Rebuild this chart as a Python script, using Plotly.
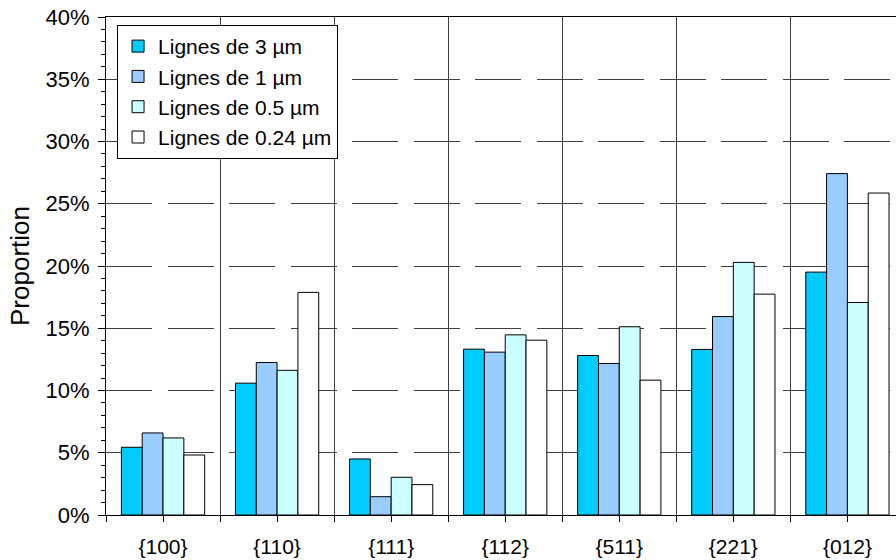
import plotly.graph_objects as go

# Crystallographic orientation families
categories = ["{100}", "{110}", "{111}", "{112}", "{511}", "{221}", "{012}"]

# Proportion (%) of each family, per line width
series_names = ["Lignes de 3 µm", "Lignes de 1 µm", "Lignes de 0.5 µm", "Lignes de 0.24 µm"]
lines_3um = [5.44, 10.59, 4.50, 13.32, 12.81, 13.30, 19.51]
lines_1um = [6.59, 12.25, 1.47, 13.08, 12.17, 15.94, 27.42]
lines_05um = [6.19, 11.62, 3.03, 14.47, 15.12, 20.29, 17.07]
lines_024um = [4.82, 17.88, 2.44, 14.04, 10.83, 17.74, 25.86]

y_ticks = [0, 5, 10, 15, 20, 25, 30, 35, 40]

colors = ["#00CCFF", "#99CCFF", "#CCFFFF", "#FFFFFF"]
FONT = "Liberation Sans, Arial, sans-serif"

positions = list(range(len(categories)))
boundaries = [p - 0.5 for p in positions] + [positions[-1] + 0.5]

fig = go.Figure()
for name, vals, col in zip(series_names,
                           [lines_3um, lines_1um, lines_05um, lines_024um],
                           colors):
    fig.add_trace(go.Bar(
        x=positions, y=vals, name=name,
        marker=dict(color=col, line=dict(color="#000000", width=1)),
    ))

fig.update_layout(
    width=896, height=560,
    margin=dict(l=106, r=0, t=17, b=45),
    paper_bgcolor="white", plot_bgcolor="white",
    barmode="group", bargap=0.27, bargroupgap=0,
    font=dict(family=FONT, size=21, color="#000000"),
    legend=dict(
        x=0.014, y=0.984, xanchor="left", yanchor="top",
        bgcolor="white", bordercolor="#000000", borderwidth=1,
        font=dict(family=FONT, size=21, color="#000000"),
        tracegroupgap=0,
    ),
    showlegend=True,
)

fig.update_xaxes(
    range=[-0.5, 6.426],
    tickmode="array", tickvals=positions, ticktext=categories,
    ticks="outside", ticklen=6, tickcolor="#000000", tickwidth=1,
    ticklabelstandoff=7,
    showgrid=False, zeroline=False,
    showline=True, linecolor="#000000", linewidth=1, mirror=True,
    tickfont=dict(family=FONT, size=21),
    minor=dict(
        tickmode="array", tickvals=boundaries,
        ticks="outside", ticklen=6, tickcolor="#000000",
        showgrid=True, gridcolor="#404040", gridwidth=1,
    ),
)

fig.update_yaxes(
    range=[0, 40],
    tickmode="array", tickvals=y_ticks,
    ticktext=[f"{v}%" for v in y_ticks],
    ticks="outside", ticklen=7, tickcolor="#000000", tickwidth=1,
    ticklabelstandoff=4,
    showgrid=True, gridcolor="#404040", gridwidth=1, griddash="46px,15.5px",
    zeroline=False,
    showline=True, linecolor="#000000", linewidth=1,
    tickfont=dict(family=FONT, size=22),
    title=dict(text="Proportion", font=dict(family=FONT, size=26), standoff=8),
    minor=dict(dtick=1, ticks="outside", ticklen=4, tickcolor="#000000", showgrid=False),
)

fig.write_html("out.html")
